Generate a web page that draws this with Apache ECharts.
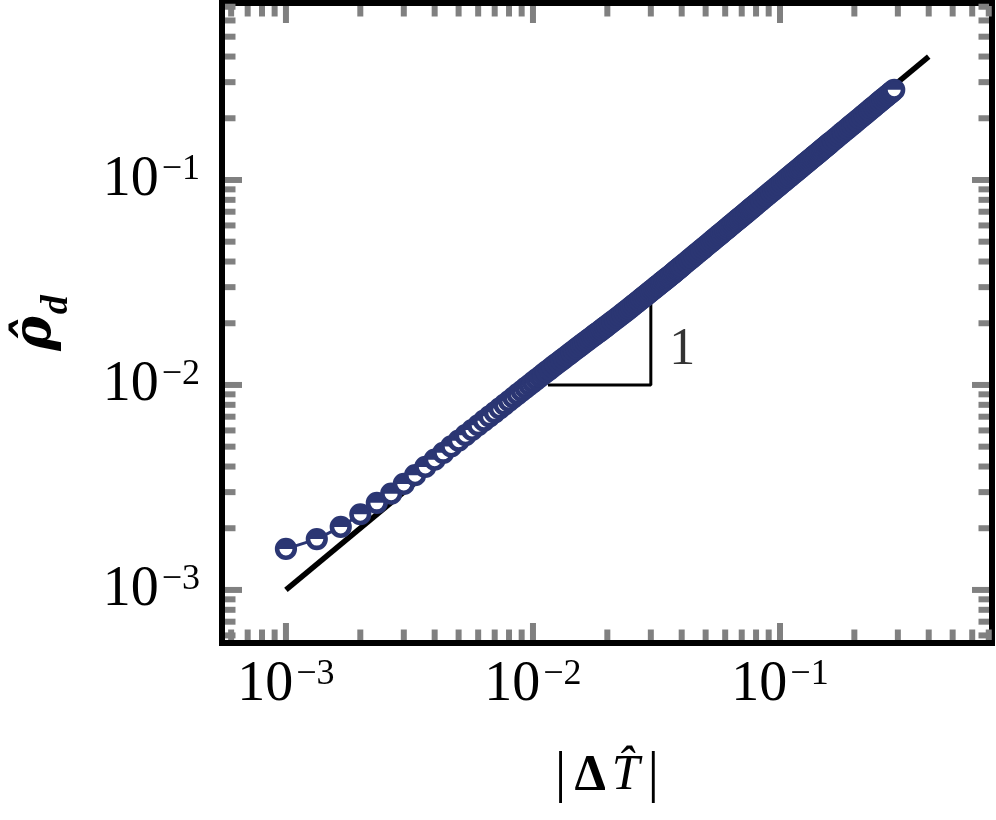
<!DOCTYPE html>
<html><head><meta charset="utf-8">
<script src="https://cdn.jsdelivr.net/npm/echarts@6/dist/echarts.min.js"></script>
<style>html,body{margin:0;padding:0;background:#fff}#c{width:996px;height:820px}</style>
</head><body><div id="c"></div><script>
// ---- data ----
const xVals = [
0.001,0.0013333,0.0016667,0.002,0.0023333,0.0026667,0.003,0.0033333,0.0036667,0.004,
0.0043333,0.0046667,0.005,0.0053333,0.0056667,0.006,0.0063333,0.0066667,0.007,0.0073333,
0.0076667,0.008,0.0083333,0.0086667,0.009,0.0093333,0.0096667,0.01,0.010333,0.010667,
0.011,0.011333,0.011667,0.012,0.012333,0.012667,0.013,0.013333,0.013667,0.014,
0.014333,0.014667,0.015,0.015333,0.015667,0.016,0.016333,0.016667,0.017,0.017333,
0.017667,0.018,0.018333,0.018667,0.019,0.019333,0.019667,0.02,
0.0205,0.021,0.0215,0.022,0.0225,0.023,0.0235,0.024,0.0245,0.025,0.0255,0.026,0.0265,0.027,0.0275,0.028,0.0285,0.029,0.0295,0.03,
0.0305,0.031,0.0315,0.032,0.0325,0.033,0.0335,0.034,0.0345,0.035,0.0355,0.036,0.0365,0.037,0.0375,0.038,0.0385,0.039,0.0395,0.04,
0.041,0.042,0.043,0.044,0.045,0.046,0.047,0.048,0.049,0.05,0.051,0.052,0.053,0.054,0.055,0.056,0.057,0.058,0.059,0.06,
0.061,0.062,0.063,0.064,0.065,0.066,0.067,0.068,0.069,0.07,0.071,0.072,0.073,0.074,0.075,0.076,0.077,0.078,0.079,0.08,
0.082,0.084,0.086,0.088,0.09,0.092,0.094,0.096,0.098,0.1,0.102,0.104,0.106,0.108,0.11,0.112,0.114,0.116,0.118,0.12,
0.122,0.124,0.126,0.128,0.13,0.132,0.134,0.136,0.138,0.14,0.142,0.144,0.146,0.148,0.15,0.152,0.154,0.156,0.158,0.16,
0.164,0.168,0.172,0.176,0.18,0.184,0.188,0.192,0.196,0.2,
0.205,0.21,0.215,0.22,0.225,0.23,0.235,0.24,0.245,0.25,0.255,0.26,0.265,0.27,0.275,0.28,0.285,0.29
];
const yVals = [
0.001585,0.00177,0.00203,0.00234,0.00266,0.00295,0.00329,0.00363,0.00398,0.00432,
0.004667,0.005012,0.00535,0.005691,0.006029,0.00636,0.006694,0.007027,0.00735,0.007685,
0.008019,0.008352,0.008683,0.009013,0.009342,0.009669,0.009995,0.01032,0.010643,0.010966,
0.011286,0.011605,0.011924,0.01224,0.012555,0.01287,0.013182,0.013493,0.013804,0.014112,
0.014419,0.014726,0.01503,0.015333,0.015651,0.015952,0.016251,0.01655,0.016847,0.017142,
0.017437,0.01773,0.018021,0.018312,0.01862,0.018927,0.019215,0.01952,
0.019967,0.020412,0.020855,0.021296,0.021758,0.022218,0.022678,0.023136,0.023594,0.02405,0.024506,0.02496,0.025427,0.025893,0.026359,0.026824,0.027289,0.027753,0.028217,0.02868,
0.029143,0.029605,0.030067,0.030528,0.030989,0.031449,0.031909,0.032368,0.032827,0.033285,0.033725,0.0342,0.034675,0.03515,0.035625,0.0361,0.036575,0.03705,0.037525,0.038,
0.03895,0.0399,0.04085,0.0418,0.04275,0.0437,0.04465,0.0456,0.04655,0.0475,0.04845,0.0494,0.05035,0.0513,0.05225,0.0532,0.05415,0.0551,0.05605,0.057,
0.05795,0.0589,0.05985,0.0608,0.06175,0.0627,0.06365,0.0646,0.06555,0.0665,0.06745,0.0684,0.06935,0.0703,0.07125,0.0722,0.07315,0.0741,0.07505,0.076,
0.0779,0.0798,0.0817,0.0836,0.0855,0.0874,0.0893,0.0912,0.0931,0.095,0.0969,0.0988,0.1007,0.1026,0.1045,0.1064,0.1083,0.1102,0.1121,0.114,
0.1159,0.1178,0.1197,0.1216,0.1235,0.1254,0.1273,0.1292,0.1311,0.133,0.1349,0.1368,0.1387,0.1406,0.1425,0.1444,0.1463,0.1482,0.1501,0.152,
0.1558,0.1596,0.1634,0.1672,0.171,0.1748,0.1786,0.1824,0.1862,0.19,
0.19475,0.1995,0.20425,0.209,0.21375,0.2185,0.22325,0.228,0.23275,0.2375,0.24225,0.247,0.25175,0.2565,0.26125,0.266,0.27075,0.2755
];
const refLineX = [0.001, 0.4];
const refLineY = [0.001, 0.4];
const triX = [0.0115, 0.03, 0.03];
const triY = [0.01, 0.01, 0.025];
const slopeText = '1';
const slopeLabelAt = [0.03, 0.0148];
const xTickValues = [0.001, 0.01, 0.1];
const xTickExps = ['−3', '−2', '−1'];
const yTickValues = [0.001, 0.01, 0.1];
const yTickExps = ['−3', '−2', '−1'];
const xMinorTicks = [0.0006,0.0007,0.0008,0.0009,0.002,0.003,0.004,0.005,0.006,0.007,0.008,0.009,0.02,0.03,0.04,0.05,0.06,0.07,0.08,0.09,0.2,0.3,0.4,0.5,0.6,0.7];
const yMinorTicks = [0.0006,0.0007,0.0008,0.0009,0.002,0.003,0.004,0.005,0.006,0.007,0.008,0.009,0.02,0.03,0.04,0.05,0.06,0.07,0.08,0.09,0.2,0.3,0.4,0.5,0.6,0.7];
const xName = '{bar|\u007C}{d|Δ}{t|T\u0302}{bar|\u007C}';
const yName = '{r|ρ\u0302}{s|d}';

// ---- style ----
const NAVY = '#2b3673';
const TICK_COLOR = '#808080';
const SERIF = '"Liberation Serif", "DejaVu Serif", serif';
const X_MIN = 5.51e-4, X_MAX = 0.7215, Y_MIN = 5.51e-4, Y_MAX = 0.730;

function fmt(vals, exps) {
  return function (v) {
    const i = vals.findIndex(t => Math.abs(Math.log10(v) - Math.log10(t)) < 1e-6);
    return i < 0 ? '' : '{b|10}{e|' + exps[i] + '}';
  };
}
const labelRich = {
  b: {fontSize: 56, lineHeight: 56, fontFamily: SERIF, color: '#000'},
  e: {fontSize: 36, lineHeight: 38, fontFamily: SERIF, color: '#000', verticalAlign: 'top', padding: [0, 0, 0, 3]}
};

function tickSeries(vals, axis, len) {
  return {
    type: 'custom', coordinateSystem: 'cartesian2d', silent: true, z: 1,
    data: vals.map(v => axis === 'x' ? [v, 0.01] : [0.01, v]),
    renderItem: function (params, api) {
      const cs = params.coordSys;
      const p = api.coord([api.value(0), api.value(1)]);
      const st = {stroke: TICK_COLOR, lineWidth: 6};
      if (axis === 'x') {
        const x = p[0];
        return {type: 'group', children: [
          {type: 'line', shape: {x1: x, y1: cs.y + cs.height - 3, x2: x, y2: cs.y + cs.height - len}, style: st},
          {type: 'line', shape: {x1: x, y1: cs.y + 3, x2: x, y2: cs.y + len}, style: st}
        ]};
      } else {
        const y = p[1];
        return {type: 'group', children: [
          {type: 'line', shape: {x1: cs.x + 3, y1: y, x2: cs.x + len, y2: y}, style: st},
          {type: 'line', shape: {x1: cs.x + cs.width - 3, y1: y, x2: cs.x + cs.width - len, y2: y}, style: st}
        ]};
      }
    }
  };
}

const chart = echarts.init(document.getElementById('c'), null, {renderer: 'canvas'});
chart.setOption({
  animation: false,
  backgroundColor: '#fff',
  grid: {left: 222, right: 4, top: 3, bottom: 177, show: true, borderColor: '#000', borderWidth: 6, backgroundColor: '#fff'},
  xAxis: {
    type: 'log', logBase: 10, min: X_MIN, max: X_MAX,
    axisLine: {show: false}, axisTick: {show: false}, splitLine: {show: false},
    axisLabel: {formatter: fmt(xTickValues, xTickExps), rich: labelRich, margin: 14, showMinLabel: false, showMaxLabel: false},
    name: xName, nameLocation: 'middle', nameGap: 104,
    nameTextStyle: {rich: {
      bar: {fontSize: 58, fontFamily: SERIF, color: '#000', padding: [0, 8, 0, 8]},
      d: {fontSize: 50, fontWeight: 'bold', fontFamily: SERIF, color: '#000', padding: [0, 6, 0, 0]},
      t: {fontSize: 50, fontStyle: 'italic', fontFamily: SERIF, color: '#000'}
    }}
  },
  yAxis: {
    type: 'log', logBase: 10, min: Y_MIN, max: Y_MAX,
    axisLine: {show: false}, axisTick: {show: false}, splitLine: {show: false},
    axisLabel: {formatter: fmt(yTickValues, yTickExps), rich: labelRich, margin: 22, showMinLabel: false, showMaxLabel: false},
    name: yName, nameLocation: 'middle', nameRotate: 90, nameGap: 146,
    nameTextStyle: {rich: {
      r: {fontSize: 52, lineHeight: 66, fontWeight: 'bold', fontStyle: 'italic', fontFamily: '"DejaVu Serif", serif', color: '#000', verticalAlign: 'top'},
      s: {fontSize: 38, lineHeight: 30, fontWeight: 'bold', fontStyle: 'italic', fontFamily: SERIF, color: '#000', verticalAlign: 'bottom', padding: [0, 0, 0, 2]}
    }}
  },
  series: [
    tickSeries(xMinorTicks, 'x', 13.5),
    tickSeries(xTickValues, 'x', 20),
    tickSeries(yMinorTicks, 'y', 13.5),
    tickSeries(yTickValues, 'y', 20),
    {
      type: 'line', data: refLineX.map((x, i) => [x, refLineY[i]]), showSymbol: false, silent: true, z: 2,
      lineStyle: {color: '#000', width: 5.5}
    },
    {
      type: 'line', data: triX.map((x, i) => [x, triY[i]]), showSymbol: false, silent: true, z: 2,
      lineStyle: {color: '#000', width: 3}
    },
    {
      type: 'scatter', data: [slopeLabelAt], symbolSize: 1, silent: true, z: 2,
      itemStyle: {color: 'rgba(0,0,0,0)'},
      label: {show: true, position: 'right', distance: 18, formatter: slopeText, fontSize: 52, fontFamily: SERIF, color: '#000'}
    },
    {
      type: 'line', data: xVals.map((x, i) => [x, yVals[i]]), showSymbol: false, silent: true, z: 3,
      lineStyle: {color: NAVY, width: 3}
    },
    {
      type: 'custom', coordinateSystem: 'cartesian2d', silent: true, z: 4,
      data: xVals.map((x, i) => [x, yVals[i]]),
      renderItem: function (params, api) {
        const p = api.coord([api.value(0), api.value(1)]);
        const R = 8.8;
        return {type: 'group', children: [
          {type: 'circle', shape: {cx: p[0], cy: p[1], r: R}, style: {fill: '#fff', stroke: NAVY, lineWidth: 4.6}},
          {type: 'sector', shape: {cx: p[0], cy: p[1], r0: 0, r: R, startAngle: Math.PI, endAngle: 2 * Math.PI, clockwise: true}, style: {fill: NAVY}}
        ]};
      }
    }
  ]
});
</script></body></html>
